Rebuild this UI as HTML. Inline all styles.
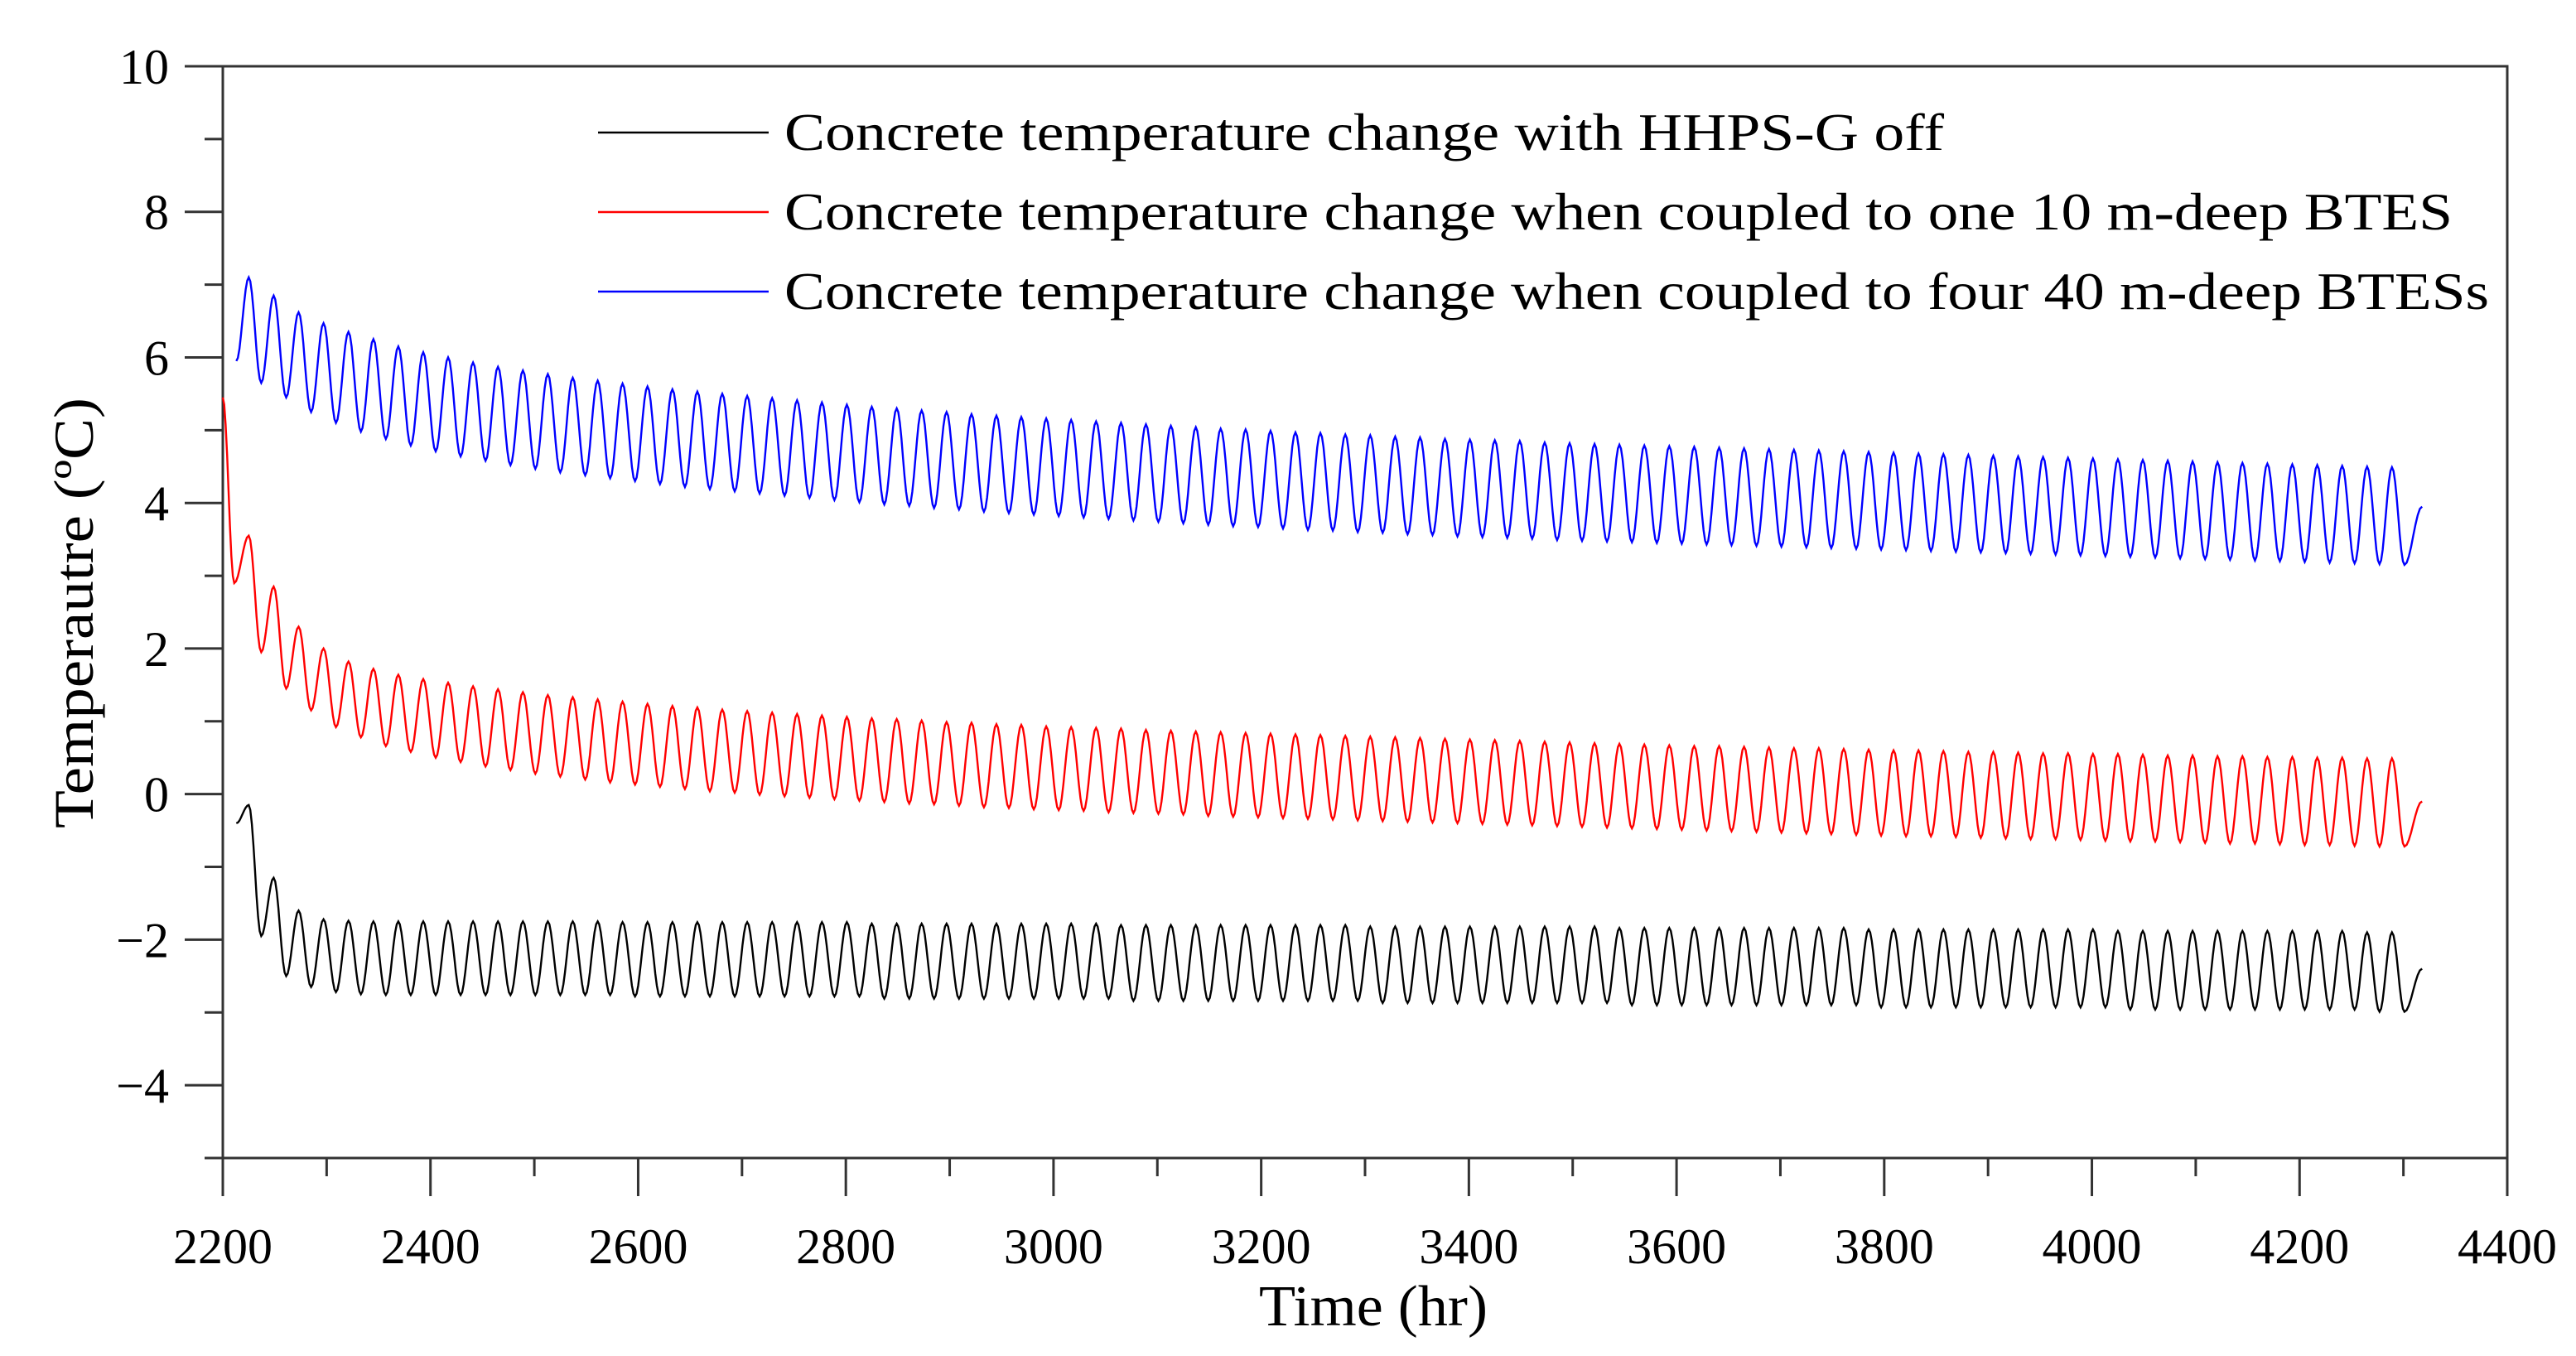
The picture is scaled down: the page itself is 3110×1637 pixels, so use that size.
<!DOCTYPE html>
<html><head><meta charset="utf-8"><style>
html,body{margin:0;padding:0;background:#fff;}
svg{display:block;font-family:"Liberation Serif",serif;}
</style></head><body>
<svg id="chart" width="3110" height="1637" viewBox="0 0 3110 1637" xmlns="http://www.w3.org/2000/svg">
<g id="axes"></g>
<g id="series"></g>
<g id="legend"></g>
<text x="1658" y="1600" font-size="70" text-anchor="middle" textLength="276" lengthAdjust="spacingAndGlyphs">Time (hr)</text>
<text x="0" y="0" font-size="68" text-anchor="middle" transform="translate(112,740) rotate(-90)" textLength="520" lengthAdjust="spacingAndGlyphs">Temperautre (ºC)</text>
</svg>
<script>
const xTicks = [2200,2400,2600,2800,3000,3200,3400,3600,3800,4000,4200,4400];
const yTicks = [-4,-2,0,2,4,6,8,10];
const seriesNames = ["Concrete temperature change with HHPS-G off","Concrete temperature change when coupled to one 10 m-deep BTES","Concrete temperature change when coupled to four 40 m-deep BTESs"];
const period = 24;
const firstPeak = 2225;
const firstTrough = 2237;
const endHour = 4318;
// black
const blackStartHours = [2213];
const blackStartValues = [-0.4];
const blackPeaks = [-0.15,-1.15,-1.60,-1.72,-1.74,
-1.75,-1.75,-1.75,-1.75,-1.75,-1.75,-1.75,-1.75,-1.75,-1.75,
-1.76,-1.76,-1.76,-1.76,-1.76,-1.76,-1.76,-1.76,-1.76,-1.76,
-1.78,-1.78,-1.78,-1.78,-1.78,-1.78,-1.78,-1.78,-1.78,-1.78,
-1.80,-1.80,-1.80,-1.80,-1.80,-1.80,-1.80,-1.80,-1.80,-1.80,
-1.82,-1.82,-1.82,-1.82,-1.82,-1.82,-1.82,-1.82,-1.82,-1.82,
-1.84,-1.84,-1.84,-1.84,-1.84,-1.84,-1.84,-1.84,-1.84,-1.84,
-1.86,-1.86,-1.86,-1.86,-1.86,-1.86,-1.86,-1.86,-1.86,-1.86,
-1.88,-1.88,-1.88,-1.88,-1.88,-1.88,-1.88,-1.88,-1.88,-1.88,
-1.90,-1.90];
const blackTroughs = [-1.95,-2.50,-2.65,-2.72,-2.75,
-2.76,-2.76,-2.76,-2.76,-2.76,-2.76,-2.76,-2.76,-2.76,-2.76,
-2.78,-2.78,-2.78,-2.78,-2.78,-2.78,-2.78,-2.78,-2.78,-2.78,
-2.81,-2.81,-2.81,-2.81,-2.81,-2.81,-2.81,-2.81,-2.81,-2.81,
-2.84,-2.84,-2.84,-2.84,-2.84,-2.84,-2.84,-2.84,-2.84,-2.84,
-2.87,-2.87,-2.87,-2.87,-2.87,-2.87,-2.87,-2.87,-2.87,-2.87,
-2.90,-2.90,-2.90,-2.90,-2.90,-2.90,-2.90,-2.90,-2.90,-2.90,
-2.93,-2.93,-2.93,-2.93,-2.93,-2.93,-2.93,-2.93,-2.93,-2.93,
-2.96,-2.96,-2.96,-2.96,-2.96,-2.96,-2.96,-2.96,-2.96,-2.96,
-2.99,-2.99];
const blackEnd = -2.4;
// red
const redStartHours = [2200,2211];
const redStartValues = [5.45,2.9];
const redPeaks = [3.55,2.85,2.30,2.00,1.82,1.72,1.64,1.58,1.53,1.48,1.44,1.40,1.36,1.33,1.30,1.27,1.24,1.21,1.19,1.16,1.14,1.12,1.10,1.08,1.06,1.04,1.03,1.01,0.99,0.98,0.96,0.95,0.93,0.92,0.91,0.90,0.88,0.87,0.86,0.85,0.84,0.83,0.82,0.81,0.80,0.79,0.78,0.77,0.76,0.75,0.74,0.73,0.72,0.71,0.70,0.69,0.68,0.67,0.66,0.66,0.65,0.64,0.63,0.63,0.62,0.61,0.60,0.60,0.59,0.58,0.58,0.57,0.56,0.56,0.55,0.55,0.54,0.53,0.53,0.52,0.52,0.51,0.51,0.50,0.50,0.49,0.49];
const redTroughs = [1.95,1.45,1.15,0.92,0.78,0.66,0.58,0.50,0.44,0.38,0.33,0.28,0.24,0.20,0.16,0.13,0.10,0.07,0.04,0.02,-0.01,-0.03,-0.05,-0.07,-0.09,-0.11,-0.13,-0.14,-0.16,-0.18,-0.19,-0.21,-0.22,-0.23,-0.25,-0.26,-0.27,-0.28,-0.30,-0.31,-0.32,-0.33,-0.34,-0.35,-0.36,-0.37,-0.38,-0.39,-0.40,-0.41,-0.42,-0.43,-0.44,-0.45,-0.46,-0.47,-0.48,-0.49,-0.50,-0.51,-0.52,-0.53,-0.54,-0.55,-0.56,-0.57,-0.58,-0.58,-0.59,-0.60,-0.61,-0.62,-0.62,-0.63,-0.64,-0.65,-0.65,-0.66,-0.67,-0.68,-0.68,-0.69,-0.70,-0.70,-0.71,-0.72,-0.72];
const redEnd = -0.1;
// blue
const blueStartHours = [2213];
const blueStartValues = [5.95];
const bluePeaks = [7.10,6.85,6.62,6.47,6.35,6.25,6.15,6.07,6.00,5.93,5.87,5.82,5.77,5.72,5.68,5.64,5.60,5.56,5.53,5.50,5.47,5.44,5.41,5.38,5.35,5.32,5.30,5.27,5.25,5.22,5.20,5.18,5.16,5.14,5.12,5.10,5.08,5.06,5.04,5.02,5.01,4.99,4.97,4.96,4.94,4.93,4.91,4.90,4.88,4.87,4.86,4.85,4.83,4.82,4.81,4.80,4.79,4.78,4.77,4.76,4.75,4.74,4.73,4.72,4.71,4.70,4.69,4.68,4.67,4.66,4.65,4.64,4.63,4.62,4.61,4.60,4.59,4.58,4.57,4.56,4.55,4.54,4.53,4.52,4.51,4.50,4.49];
const blueTroughs = [5.65,5.45,5.25,5.10,4.98,4.88,4.79,4.71,4.64,4.58,4.52,4.47,4.42,4.38,4.34,4.30,4.26,4.22,4.19,4.16,4.13,4.10,4.07,4.04,4.01,3.98,3.96,3.93,3.91,3.88,3.86,3.84,3.82,3.80,3.78,3.76,3.74,3.72,3.70,3.68,3.67,3.65,3.63,3.62,3.60,3.59,3.57,3.56,3.54,3.53,3.52,3.51,3.49,3.48,3.47,3.46,3.45,3.44,3.43,3.42,3.41,3.40,3.39,3.38,3.37,3.36,3.35,3.34,3.33,3.32,3.31,3.30,3.29,3.28,3.27,3.26,3.25,3.24,3.23,3.22,3.21,3.20,3.19,3.18,3.17,3.16,3.15];
const blueEnd = 3.95;

const NS = "http://www.w3.org/2000/svg";
const L = 269, R = 3027, T = 80, B = 1398;
const xMin = 2200, xMax = 4400, yMin = -5, yMax = 10;
function xs(v){ return L + (v - xMin) / (xMax - xMin) * (R - L); }
function ys(v){ return B - (v - yMin) / (yMax - yMin) * (B - T); }
function mk(tag, attrs, parent){
  const el = document.createElementNS(NS, tag);
  for (const k in attrs) el.setAttribute(k, attrs[k]);
  parent.appendChild(el);
  return el;
}
const axes = document.getElementById('axes');
const AX = "#333";
let frame = mk('rect', {x:L, y:T, width:R-L, height:B-T, fill:'none', stroke:AX, 'stroke-width':3}, axes);


for (let v = yMin; v <= yMax; v++) {
  const major = yTicks.includes(v);
  const t = mk('line', {x1:L-(major?46:22), x2:L, y1:ys(v), y2:ys(v), stroke:AX, 'stroke-width':3}, axes);
  
  
}
yTicks.forEach(v => {
  const t = mk('text', {x:204, y:ys(v)+21, 'font-size':60, 'text-anchor':'end'}, axes);
  t.textContent = (v < 0 ? '\u2212' + Math.abs(v) : String(v));
  
  
});
for (let v = xMin; v <= xMax; v += 100) {
  const major = xTicks.includes(v);
  const t = mk('line', {x1:xs(v), x2:xs(v), y1:B, y2:B+(major?46:22), stroke:AX, 'stroke-width':3}, axes);
  
  
}
xTicks.forEach(v => {
  const t = mk('text', {x:xs(v), y:1525, 'font-size':60, 'text-anchor':'middle'}, axes);
  t.textContent = String(v);
  
  
});
function buildPts(startH, startV, peaks, troughs, endV){
  const ext = [];
  startH.forEach((h,i) => ext.push([h, startV[i]]));
  for (let k = 0; k < peaks.length; k++) {
    ext.push([firstPeak + period*k, peaks[k]]);
    if (k < troughs.length) ext.push([firstTrough + period*k, troughs[k]]);
  }
  ext.push([endHour, endV]);
  let d = '';
  for (let i = 0; i < ext.length; i++) {
    if (i === 0) { d += 'M' + xs(ext[0][0]).toFixed(1) + ',' + ys(ext[0][1]).toFixed(1); continue; }
    const [h0, v0] = ext[i-1], [h1, v1] = ext[i];
    const n = 8;
    for (let j = 1; j <= n; j++) {
      const f = j / n, e = (1 - Math.cos(Math.PI * f)) / 2;
      d += 'L' + xs(h0 + (h1-h0)*f).toFixed(1) + ',' + ys(v0 + (v1-v0)*e).toFixed(1);
    }
  }
  return d;
}
const sg = document.getElementById('series');
const p1 = mk('path', {d:buildPts(blackStartHours, blackStartValues, blackPeaks, blackTroughs, blackEnd), fill:'none', stroke:'#000', 'stroke-width':2.4}, sg);


const p2 = mk('path', {d:buildPts(redStartHours, redStartValues, redPeaks, redTroughs, redEnd), fill:'none', stroke:'#ff0000', 'stroke-width':2.4}, sg);


const p3 = mk('path', {d:buildPts(blueStartHours, blueStartValues, bluePeaks, blueTroughs, blueEnd), fill:'none', stroke:'#0000ff', 'stroke-width':2.4}, sg);


const lg = document.getElementById('legend');
const colors = ['#000','#ff0000','#0000ff'];
const rowY = [160, 256, 352];
const textLens = [1400, 2014, 2058];
seriesNames.forEach((name, i) => {
  const ln = mk('line', {x1:722, x2:928, y1:rowY[i], y2:rowY[i], stroke:colors[i], 'stroke-width':2.4}, lg);
  
  
  const tx = mk('text', {x:947, y:rowY[i]+21, 'font-size':64, textLength:textLens[i], lengthAdjust:'spacingAndGlyphs'}, lg);
  tx.textContent = name;
  
  
});
</script>
</body></html>
